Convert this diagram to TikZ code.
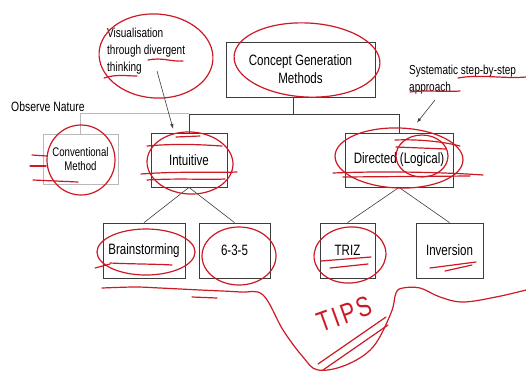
\documentclass[tikz,border=0pt]{standalone}
\usepackage{fontspec}
\setmainfont{Liberation Sans}[FakeStretch=0.77]
\usetikzlibrary{positioning}
\definecolor{penred}{RGB}{205,25,35}
\definecolor{boxgray}{RGB}{60,60,60}
\tikzset{
  box/.style={draw=boxgray, line width=0.8pt, align=center, inner sep=0pt, font=\fontsize{15}{18}\selectfont},
  faintbox/.style={box, draw=gray!55, font=\fontsize{12.5}{14}\selectfont},
  link/.style={draw=boxgray, line width=0.6pt},
  note/.style={align=left, inner sep=0pt, font=\fontsize{13}{17}\selectfont},
  pen/.style={draw=penred, line width=1.2pt, line cap=round},
}

\begin{document}
\begin{tikzpicture}[x=1pt, y=-1pt]
    \useasboundingbox (0,0) rectangle (526,373);

    % tree
    \node[box, minimum width=149pt, minimum height=55pt] (cgm) at (300.5,69.5) {Concept Generation\\Methods};
    \node[faintbox, minimum width=75pt, minimum height=50pt] (conv) at (80.5,159) {Conventional\\Method};
    \node[box, minimum width=76pt, minimum height=54pt] (intu) at (189,160) {Intuitive};
    \node[box, minimum width=108pt, minimum height=54pt] (dir) at (399,160) {Directed (Logical)};
    \node[box, minimum width=82pt, minimum height=55pt] (brain) at (144,250.5) {Brainstorming};
    \node[box, minimum width=71pt, minimum height=55pt] (six) at (234.5,250.5) {6-3-5};
    \node[box, minimum width=55pt, minimum height=55pt] (triz) at (347.5,250.5) {TRIZ};
    \node[box, minimum width=67pt, minimum height=55pt] (inv) at (449.5,250.5) {Inversion};

    \draw[link] ([xshift=-7pt]cgm.south) -- ++(0,17) coordinate (bus);
    \draw[link] (intu.north) |- (bus) -| (dir.north);
    \draw[draw=gray!55, line width=0.6pt] (conv.north) |- ([yshift=1pt]bus -| intu.north);
    \draw[link] (intu.south) -- (brain.north);
    \draw[link] (intu.south) -- (six.north);
    \draw[link] (dir.south) -- (triz.north);
    \draw[link] (dir.south) -- (inv.north);

    % notes
    \node[note, anchor=north west] (vis) at (107,28) {Visualisation\\through divergent\\thinking};
    \node[note, anchor=north west] (sys) at (409,65) {Systematic step-by-step\\approach};
    \node[note, font=\fontsize{13.5}{17}\selectfont, anchor=west] (obs) at (11,107) {Observe Nature};
    \coordinate (visend) at (157,71);
    \coordinate (sysend) at (435,100);
    \draw[link, ->, >=latex] (visend) -- ([xshift=-16pt,yshift=4pt]intu.north);
    \draw[link, ->, >=latex] (sysend) -- ([xshift=18pt,yshift=10pt]dir.north);

    % red pen marks
    \draw[pen] (156,56) ellipse [x radius=57, y radius=42, rotate=-4];
    \draw[pen] (307,60) ellipse [x radius=73, y radius=37, rotate=-3];
    \draw[pen] (148,60) .. controls (162,57) and (172,62) .. (183,61);
    \draw[pen] (104,78) .. controls (115,74) and (128,76) .. (137,76);
    \draw[pen] (458,78) .. controls (480,74) and (505,79) .. (526,77);
    \draw[pen] (410,92) .. controls (425,90) and (445,92) .. (460,91);

    \draw[pen] (81,160) ellipse [x radius=34, y radius=35];
    \draw[pen] (32,155) -- (47,156);
    \draw[pen] (30,166) -- (46,166);
    \draw[pen] (33,180) -- (78,182);

    \draw[pen] (190,163) ellipse [x radius=43, y radius=31, rotate=-3];
    \draw[pen] (147,146) .. controls (180,143) and (205,145) .. (222,146);
    \draw[pen] (176,137) -- (200,136);
    \draw[pen] (141,174) .. controls (180,171) and (215,173) .. (237,172);
    \draw[pen] (147,180) .. controls (180,178) and (205,180) .. (225,179);

    \draw[pen] (399,158) ellipse [x radius=64, y radius=30, rotate=-2];
    \draw[pen] (422,156) ellipse [x radius=26, y radius=21];
    \draw[pen] (395,140) .. controls (420,139) and (445,142) .. (460,146);
    \draw[pen] (396,147) -- (446,149);
    \draw[pen] (333,173) .. controls (380,171) and (440,172) .. (483,175);
    \draw[pen] (343,177) -- (470,176);

    \draw[pen] (146,252) ellipse [x radius=49, y radius=23];
    \draw[pen] (95,268) -- (110,264);
    \draw[pen] (110,263) .. controls (130,264) and (155,264) .. (172,265);
    \draw[pen] (239,256) ellipse [x radius=37, y radius=29];
    \draw[pen] (350,255) ellipse [x radius=36, y radius=28, rotate=5];
    \draw[pen] (321,261) -- (371,257);
    \draw[pen] (330,268) -- (368,264);
    \draw[pen] (430,268) -- (476,262);
    \draw[pen] (445,271) -- (472,265);

    \draw[pen] plot[smooth, tension=0.6] coordinates {(102,288) (135,287) (160,288) (200,290) (240,292) (263,295) (283,330) (303,357) (318,370) (346,365) (373,347) (391,313) (396,293) (403,288) (420,288) (440,297) (463,302) (496,297) (526,290)};
    \draw[pen] (192,297) -- (217,298);

    \node[text=penred, font=\fontsize{28}{28}\selectfont, rotate=20, inner sep=0pt] (tips) at (344,314) {T\kern3pt I\kern3pt P\kern2pt S};
    \draw[pen] (318,364) -- (386,317);
    \draw[pen] (323,370) -- (388,325);
\end{tikzpicture}
\end{document}
